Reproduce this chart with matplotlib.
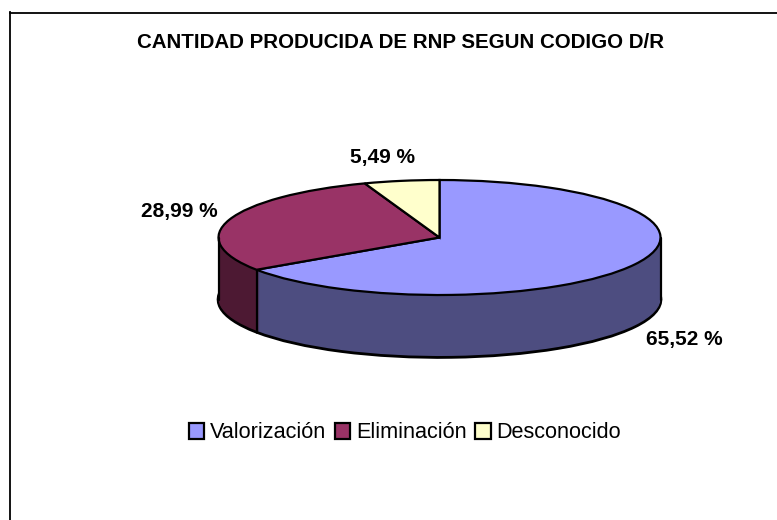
import numpy as np
import matplotlib
matplotlib.use("Agg")
import matplotlib.pyplot as plt

categories = ["Valorización", "Eliminación", "Desconocido"]
values = [65.52, 28.99, 5.49]
top_colors = ["#9999FF", "#993366", "#FFFFCC"]
side_colors = ["#4D4D80", "#4D1933", "#808066"]
title = "CANTIDAD PRODUCIDA DE RNP SEGUN CODIGO D/R"

W, H = 777, 520
plt.rcParams["font.family"] = ["Liberation Sans", "DejaVu Sans"]
fig = plt.figure(figsize=(W / 100, H / 100), dpi=100, facecolor="white")

# Axes spanning the framed area, in pixel geometry
L, T = 10.0, 12.5
ax = fig.add_axes([L / W, 0, 1 - L / W, 1 - T / H])
cx, cy, rx, ry, depth_px = 439.5, 237.5, 221.0, 57.5, 62

def do_pie(colors, dy, edge=None, lw=0):
    w, _ = ax.pie(values, colors=colors, startangle=90, counterclock=False,
                  center=(0, dy), radius=1,
                  wedgeprops=dict(edgecolor=edge if edge else "none", linewidth=lw))
    return w

depth = depth_px / ry
do_pie(side_colors, -depth, edge="black", lw=2.6)
for k in range(depth_px - 1, 0, -1):
    do_pie(side_colors, -k / ry)
wedges = do_pie(top_colors, 0, edge="black", lw=1.6)

# Vertical edges of the wall: outer extremes and visible slice boundary
ax.plot([-1, -1], [0, -depth], color="black", lw=1.6, solid_capstyle="round", zorder=5)
ax.plot([1, 1], [0, -depth], color="black", lw=1.6, solid_capstyle="round", zorder=5)
ang = np.deg2rad(90 - 360 * values[0] / sum(values))
ax.plot([np.cos(ang)] * 2, [np.sin(ang), np.sin(ang) - depth], color="black", lw=1.6,
        solid_capstyle="round", zorder=5)

ax.set_aspect("auto")
ax.set_xlim((L - cx) / rx, (W - cx) / rx)
ax.set_ylim((cy - H) / ry, (cy - T) / ry)
ax.set_xticks([])
ax.set_yticks([])
ax.set_frame_on(True)
for s in ["right", "bottom"]:
    ax.spines[s].set_visible(False)
for s in ["left", "top"]:
    ax.spines[s].set_linewidth(1.3)
    ax.spines[s].set_color("black")

def pct(v):
    return f"{v:.2f} %".replace(".", ",")

fig.text(401 / W, 1 - 42 / H, title, ha="center", va="center", fontsize=14.75,
         fontweight="bold", color="black")
label_pos = [(684, 339), (179, 211), (382, 157)]
for v, (px, py) in zip(values, label_pos):
    fig.text(px / W, 1 - py / H, pct(v), ha="center", va="center", fontsize=15,
             fontweight="bold", color="black")

leg = fig.legend(wedges, categories, ncol=3, frameon=False, loc="center",
                 bbox_to_anchor=(405 / W, 1 - 433 / H), fontsize=15.6,
                 handlelength=0.7, handleheight=0.7, handletextpad=0.28,
                 columnspacing=0.4, borderpad=0)

fig.savefig("out.png", dpi=100)
